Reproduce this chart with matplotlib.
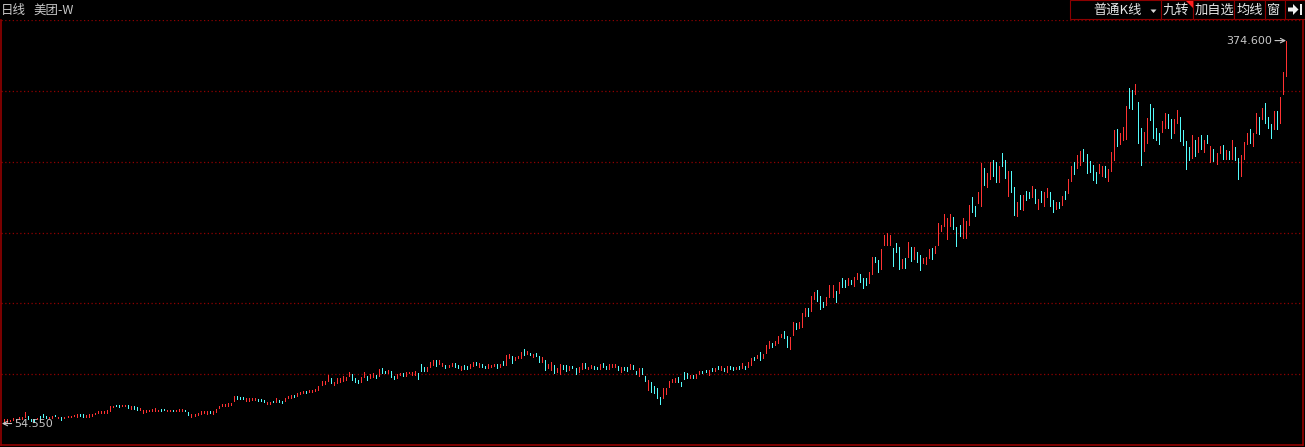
import numpy as np
import matplotlib
matplotlib.use("Agg")
import matplotlib.pyplot as plt
from matplotlib.patches import Rectangle, Polygon

plt.rcParams['font.family'] = ['Noto Sans CJK SC', 'DejaVu Sans']

title_left = "日线"
stock_name = "美团-W"
toolbar_labels = ["普通K线", "九转", "加自选", "均线", "窗"]

# daily opens / closes (HKD)
opens = [
    54.55, 56.2, 56.8, 57.9, 57.3, 58.4, 58.4, 59.8, 60.7, 58.4,
    58.4, 58.4, 60.7, 62.6, 61.2, 59.3, 59.3, 61.8, 59.0, 59.8,
    59.3, 59.8, 60.1, 60.7, 59.8, 62.1, 62.1, 60.4, 60.4, 61.2,
    62.1, 63.2, 63.5, 63.5, 63.5, 64.9, 68.2, 70.1, 70.1, 69.0,
    69.3, 70.1, 66.8, 69.6, 68.2, 66.0, 63.2, 64.0, 64.6, 64.9,
    64.9, 64.9, 66.5, 66.8, 65.1, 65.4, 66.0, 64.6, 65.1, 64.9,
    66.2, 64.0, 59.8, 61.2, 61.8, 62.6, 63.5, 62.6, 64.6, 62.6,
    64.0, 67.4, 69.4, 69.2, 69.4, 69.7, 73.6, 77.5, 76.9, 76.9,
    73.6, 73.6, 73.8, 73.9, 75.0, 75.0, 74.2, 70.8, 71.1, 73.4,
    72.7, 74.2, 73.6, 73.6, 75.6, 75.6, 78.4, 77.5, 79.5, 80.3,
    81.7, 81.0, 81.0, 81.9, 82.8, 86.5, 87.3, 90.3, 92.3, 86.7,
    88.1, 89.5, 90.3, 90.9, 94.2, 95.9, 92.3, 90.9, 89.0, 93.6,
    94.5, 92.3, 93.6, 95.1, 94.5, 100.7, 98.7, 96.5, 98.4, 94.2,
    92.3, 95.1, 96.5, 94.5, 96.5, 95.1, 95.1, 97.0, 104.3, 102.0,
    98.4, 102.0, 103.4, 107.6, 104.3, 102.6, 103.4, 101.5, 102.9, 105.4,
    103.4, 99.3, 103.4, 102.8, 100.7, 102.6, 106.2, 102.0, 104.3, 102.8,
    100.7, 102.0, 102.6, 104.0, 102.0, 107.0, 103.4, 109.0, 111.0, 107.6,
    109.0, 109.5, 116.8, 112.6, 113.7, 110.4, 113.7, 111.0, 106.2, 107.6,
    100.7, 99.3, 103.4, 97.3, 95.7, 103.4, 103.4, 99.3, 102.8, 101.2,
    97.8, 100.1, 105.4, 99.8, 101.2, 102.6, 102.0, 100.1, 105.4, 102.8,
    100.1, 102.0, 102.0, 102.6, 97.8, 102.0, 101.5, 100.1, 103.4, 98.7,
    94.5, 101.2, 94.2, 82.5, 89.5, 85.9, 84.0, 77.0, 76.1, 79.2,
    84.8, 89.5, 89.5, 93.1, 89.5, 97.3, 96.5, 92.8, 95.1, 92.8,
    95.9, 98.4, 99.3, 95.1, 100.7, 98.4, 102.6, 99.3, 100.7, 97.8,
    102.6, 101.5, 100.1, 102.6, 101.2, 102.8, 102.0, 103.4, 110.4, 109.0,
    114.5, 109.5, 113.2, 117.9, 122.1, 120.2, 122.1, 127.1, 131.8, 127.7,
    116.8, 128.5, 138.5, 134.6, 135.4, 144.4, 150.8, 148.8, 158.3, 166.1,
    161.1, 156.3, 153.6, 160.5, 160.5, 165.3, 163.9, 175.9, 174.5, 170.3,
    174.5, 169.7, 175.3, 179.5, 175.9, 175.9, 172.2, 179.5, 193.9, 191.2,
    183.7, 203.7, 203.7, 203.7, 201.5, 205.1, 202.3, 184.2, 193.1, 193.9,
    202.3, 192.0, 197.6, 195.4, 188.4, 187.8, 193.1, 201.5, 196.8, 203.7,
    215.4, 219.6, 208.7, 219.6, 226.9, 218.5, 220.4, 209.8, 209.8, 220.4,
    244.1, 236.3, 238.6, 236.6, 267.8, 252.4, 258.9, 274.8, 273.3, 256.6,
    280.4, 274.8, 244.9, 265.6, 252.4, 228.2, 245.5, 233.0, 248.9, 248.3,
    243.6, 250.5, 233.8, 248.9, 236.6, 243.6, 248.0, 241.3, 233.8, 239.9,
    237.2, 248.9, 246.9, 257.5, 273.3, 268.3, 270.6, 283.9, 279.8, 273.9,
    270.6, 264.5, 264.1, 261.4, 269.7, 257.5, 265.6, 274.8, 300.7, 288.1,
    291.5, 292.3, 334.7, 333.3, 329.7, 323.5, 301.2, 282.5, 288.7, 321.6,
    317.9, 301.2, 297.6, 298.4, 301.2, 313.2, 309.0, 297.6, 305.4, 310.9,
    299.8, 290.6, 285.4, 276.7, 291.5, 281.7, 295.6, 281.7, 295.6, 272.8,
    283.9, 271.4, 280.9, 287.3, 275.6, 282.3, 275.3, 285.4, 276.7, 261.6,
    275.6, 287.9, 300.7, 286.4, 297.1, 310.9, 309.0, 322.1, 310.9, 304.8,
    300.7, 315.9, 305.9, 329.9, 345.2,
]

closes = [
    58.4, 58.4, 57.6, 59.3, 58.4, 59.8, 59.8, 64.0, 58.4, 56.8,
    55.7, 59.3, 58.4, 59.8, 59.3, 60.4, 60.7, 60.7, 59.8, 57.3,
    60.4, 60.7, 61.2, 61.8, 62.6, 61.2, 59.8, 61.8, 62.1, 62.6,
    63.2, 65.4, 65.1, 65.1, 66.0, 68.8, 69.6, 68.8, 68.5, 70.1,
    70.4, 67.4, 68.8, 66.8, 66.2, 67.4, 66.0, 66.2, 66.2, 66.8,
    67.6, 66.2, 64.9, 65.7, 66.2, 66.2, 64.9, 66.2, 66.5, 66.8,
    64.6, 61.8, 62.6, 62.9, 63.2, 64.6, 64.6, 64.6, 63.5, 65.1,
    66.8, 69.6, 70.6, 70.9, 71.4, 71.4, 77.5, 75.0, 75.0, 75.0,
    75.6, 75.6, 75.8, 75.7, 73.6, 73.4, 72.3, 72.7, 72.7, 72.3,
    75.6, 72.7, 71.9, 75.6, 77.5, 78.4, 76.5, 79.8, 81.2, 81.7,
    80.3, 82.6, 82.6, 83.4, 86.0, 90.0, 90.1, 95.1, 88.6, 89.5,
    92.3, 92.3, 94.2, 93.6, 97.3, 90.9, 89.0, 88.6, 93.6, 97.3,
    90.9, 95.7, 96.5, 92.8, 100.1, 97.0, 97.0, 99.3, 93.6, 91.7,
    95.7, 97.0, 94.5, 97.3, 97.8, 97.3, 98.4, 91.7, 98.4, 98.4,
    102.0, 106.2, 107.6, 102.8, 107.6, 105.4, 101.2, 103.4, 104.9, 102.0,
    101.2, 102.6, 100.1, 100.1, 104.3, 106.2, 103.4, 104.9, 102.0, 101.2,
    104.3, 103.4, 104.3, 101.2, 104.3, 103.4, 111.8, 112.6, 105.4, 109.9,
    111.0, 114.1, 111.8, 115.1, 111.8, 112.6, 111.0, 106.2, 109.9, 99.3,
    104.3, 105.7, 97.0, 101.2, 104.3, 99.8, 98.4, 102.6, 101.2, 95.9,
    101.5, 105.4, 101.2, 102.0, 103.4, 99.8, 100.3, 104.3, 102.0, 100.1,
    104.3, 104.3, 104.3, 99.3, 102.0, 99.3, 98.7, 104.3, 99.8, 95.9,
    101.2, 95.7, 90.5, 90.9, 81.0, 79.8, 76.1, 70.9, 84.0, 84.0,
    90.1, 91.7, 92.3, 89.5, 85.9, 91.7, 92.3, 95.1, 92.8, 95.9,
    98.7, 96.5, 97.8, 99.3, 98.4, 100.7, 100.1, 102.6, 98.4, 102.6,
    100.1, 99.3, 102.0, 100.1, 104.9, 100.1, 106.2, 109.5, 107.6, 111.8,
    107.6, 112.6, 120.2, 123.5, 118.7, 123.7, 127.9, 129.3, 126.3, 118.7,
    126.8, 139.4, 133.5, 139.6, 146.9, 150.8, 144.4, 161.1, 164.7, 156.9,
    150.2, 152.2, 160.0, 170.3, 170.3, 156.3, 172.6, 168.9, 168.9, 175.9,
    170.9, 177.2, 180.1, 173.0, 168.0, 170.3, 180.9, 193.9, 189.8, 181.4,
    200.4, 212.1, 213.5, 212.1, 186.2, 198.1, 183.7, 192.0, 184.7, 206.0,
    190.6, 202.3, 189.8, 182.8, 193.1, 193.9, 200.4, 192.0, 202.9, 221.9,
    220.4, 229.6, 226.5, 229.6, 216.8, 202.9, 211.2, 226.0, 223.8, 237.2,
    231.6, 228.0, 248.3, 272.0, 253.9, 263.6, 273.3, 261.6, 256.6, 269.7,
    269.7, 260.0, 265.6, 248.3, 228.8, 239.9, 233.8, 245.5, 241.3, 242.7,
    253.0, 239.1, 241.9, 239.9, 247.8, 251.4, 236.6, 231.6, 239.4, 234.9,
    244.7, 242.2, 258.9, 269.7, 263.0, 278.9, 282.3, 273.9, 264.1, 265.0,
    258.0, 255.8, 271.4, 269.7, 260.8, 267.2, 281.2, 299.8, 286.7, 297.1,
    302.6, 319.9, 318.5, 317.4, 338.3, 289.2, 270.6, 298.4, 309.6, 308.2,
    293.4, 291.5, 288.1, 307.3, 314.3, 301.8, 293.4, 309.0, 316.5, 290.6,
    287.3, 267.2, 274.8, 295.6, 278.4, 294.2, 283.9, 291.5, 289.2, 286.5,
    274.2, 280.4, 286.5, 275.6, 283.1, 275.6, 291.5, 274.8, 258.9, 278.9,
    290.0, 297.6, 289.2, 297.6, 314.3, 296.5, 318.5, 305.4, 301.2, 293.4,
    315.9, 300.7, 327.7, 348.6, 374.6,
]

UP = "#ff3232"
DOWN = "#54fcfc"
GRID = "#900000"
FRAME = "#a00000"
TXT = "#c8c8c8"

W, H = 1305, 447
fig = plt.figure(figsize=(W / 100, H / 100), dpi=100, facecolor="black")


def fx(px):
    return px / W


def fy(py):
    return 1 - py / H


ax = fig.add_axes([fx(1), fy(445), fx(1302), (445 - 20) / H])
ax.set_facecolor("black")

o = np.array(opens)
c = np.array(closes)
n = len(o)
x = np.arange(n)
lo = np.minimum(o, c)
hi = np.maximum(o, c)
cols = np.where(c >= o, UP, DOWN)

# one pixel wide bars: body and shadow overlap at this zoom level
ax.vlines(x, lo, hi, colors=cols, linewidth=0.72, antialiased=False)

ymin, ymax = 36.6, 391.8
ax.set_ylim(ymin, ymax)
ax.set_xlim(-1, n + 4.6)

ax.set_yticks(np.linspace(ymin, ymax, 7)[1:])
ax.set_xticks([])
ax.tick_params(left=False, labelleft=False)
ax.grid(axis="y", color=GRID, linestyle=(0, (1, 2)), linewidth=0.9)

for s in ["left", "right", "bottom"]:
    ax.spines[s].set_color(FRAME)
    ax.spines[s].set_linewidth(1.1)
ax.spines["top"].set_visible(False)

# max / min markers
imax = int(np.argmax(hi))
imin = int(np.argmin(lo))
ax.annotate(f"{hi[imax]:.3f}", xy=(imax, hi[imax]), xytext=(-10, 0),
            textcoords="offset points", ha="right", va="center",
            color=TXT, fontsize=8, family="DejaVu Sans",
            arrowprops=dict(arrowstyle="->", color=TXT, lw=0.8,
                            shrinkA=0, shrinkB=0))
ax.annotate(f"{lo[imin]:.3f}", xy=(imin - 0.7, lo[imin]), xytext=(9, 0),
            textcoords="offset points", ha="left", va="center",
            color=TXT, fontsize=8, family="DejaVu Sans",
            arrowprops=dict(arrowstyle="->", color=TXT, lw=0.8,
                            shrinkA=0, shrinkB=0))

# header
fig.text(fx(1), fy(10.5), title_left, color=TXT, fontsize=9, va="center")
fig.text(fx(33), fy(10.5), stock_name, color=TXT, fontsize=9, va="center")

# toolbar boxes
edges = [1069.5, 1161, 1192.5, 1234, 1265, 1284.5, 1304.5]
for i in range(len(edges) - 1):
    fig.patches.append(Rectangle((fx(edges[i]), fy(18.5)),
                                 fx(edges[i + 1] - edges[i]), 19 / H,
                                 transform=fig.transFigure, facecolor="black",
                                 edgecolor="#8c0000", linewidth=0.8))

text_x = [1093, 1163, 1195, 1237, 1267]
for lab, tx in zip(toolbar_labels, text_x):
    fig.text(fx(tx), fy(10.5), lab, color="#e6e6e6", fontsize=9.5, va="center")

fig.patches.append(Polygon([(fx(1150.5), fy(9.5)), (fx(1156.5), fy(9.5)),
                            (fx(1153.5), fy(13))], closed=True,
                           transform=fig.transFigure, facecolor="#d8d8d8",
                           edgecolor="none"))
fig.patches.append(Polygon([(fx(1185.5), fy(0.5)), (fx(1192.5), fy(0.5)),
                            (fx(1192.5), fy(7.5))], closed=True,
                           transform=fig.transFigure, facecolor="#ff2020",
                           edgecolor="none"))
icon = [(1288, 7.5), (1293, 7.5), (1293, 4), (1298.5, 9.5), (1293, 15),
        (1293, 11.5), (1288, 11.5)]
fig.patches.append(Polygon([(fx(a), fy(b)) for a, b in icon], closed=True,
                           transform=fig.transFigure, facecolor="#f0f0f0",
                           edgecolor="none"))
fig.patches.append(Rectangle((fx(1299.5), fy(15)), fx(2.5), 11 / H,
                             transform=fig.transFigure, facecolor="#f0f0f0",
                             edgecolor="none"))

fig.savefig("out.png", dpi=100, facecolor="black")
